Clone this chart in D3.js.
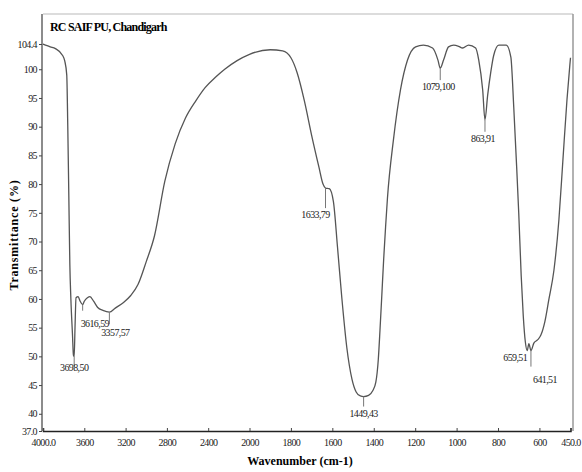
<!DOCTYPE html>
<html>
<head>
<meta charset="utf-8">
<script src="https://cdn.jsdelivr.net/npm/d3@7"></script>
<style>
  body { margin: 0; background: #fff; }
  text { font-family: "Liberation Serif", "DejaVu Serif", serif; }
  .tick text { font-size: 10px; letter-spacing: -0.6px; fill: #222; }
  .peak { font-size: 10px; letter-spacing: -0.6px; fill: #222; }
</style>
</head>
<body>
<svg width="582" height="472"></svg>
<script>
// spectrum
const wavenumber = [4000, 3960, 3930, 3880, 3810, 3790, 3770, 3760, 3750, 3740, 3730, 3715, 3705, 3698,
  3690, 3680, 3660, 3640, 3616, 3600, 3570, 3545, 3510, 3470, 3420, 3357, 3300, 3220, 3150, 3080,
  3000, 2920, 2820, 2720, 2620, 2520, 2430, 2330, 2240, 2120, 2000, 1900, 1840, 1800, 1770, 1735,
  1700, 1665, 1645, 1633, 1615, 1595, 1575, 1555, 1530, 1505, 1485, 1465, 1449, 1425, 1405, 1390,
  1378, 1370, 1362, 1352, 1343, 1334, 1305, 1271, 1237, 1198, 1160, 1116, 1090, 1079, 1063, 1039,
  1014, 990, 971, 942, 908, 893, 874, 863, 850, 835, 821, 796, 760, 738, 724, 710, 700, 688, 678,
  668, 659, 651, 641, 627, 608, 593, 574, 554, 530, 506, 487, 467, 453, 450];
const transmittance = [104.4, 104.1, 103.9, 103.6, 102.4, 101.5, 99, 90, 78, 66, 60, 54, 50.2, 50,
  55, 60.2, 60.4, 59.6, 59, 59.6, 60.2, 60.4, 59.6, 58.5, 58, 57.7, 58.4, 59.4, 60.6, 62.5,
  66.5, 71, 80.5, 87, 91.5, 94.5, 96.8, 98.6, 100, 101.5, 102.6, 103.4, 103.2, 102, 99.4, 94.5,
  88.5, 83, 80, 79.3, 79.2, 77, 69, 60.5, 51.5, 46, 43.8, 43.1, 43, 43.2, 44, 45.5,
  49.5, 54.5, 60, 67, 72.5, 77.5, 87.7, 96.4, 101.6, 103.9, 104.2, 103.7, 101.6, 100.2, 101.6, 103.9,
  104.2, 104, 103.7, 104.2, 103.7, 101.6, 96.4, 91.2, 95.5, 99.5, 102.4, 104.2, 104.2, 102.1, 93.4, 83, 75, 64, 57,
  52.5, 51, 52.2, 51, 52.3, 52.9, 53.7, 56, 60, 65, 73.8, 84, 94.7, 100.8, 102];

// picked peaks
const peakWn = [3698, 3616, 3357, 1633, 1449, 1079, 863, 659, 641];
const peakT = [50, 59, 57.7, 79.3, 43, 100.2, 91.2, 51, 51];
const peakLabels = ["3698,50", "3616,59", "3357,57", "1633,79", "1449,43", "1079,100", "863,91", "659,51", "641,51"];

const xTicks = [4000, 3600, 3200, 2800, 2400, 2000, 1800, 1600, 1400, 1200, 1000, 800, 600, 450];
const yTicks = [37, 40, 45, 50, 55, 60, 65, 70, 75, 80, 85, 90, 95, 100, 104.4];

const title = "RC SAIF PU, Chandigarh";
const xTitle = "Wavenumber (cm-1)";
const yTitle = "Transmittance (%)";

// label placement: [dx, dy, anchor, tick length]
const peakLayout = [
  [0, 15, "middle", 10], [-2, 22, "start", 6], [6, 24, "middle", 12], [-10, 30, "middle", 20],
  [0, 20, "middle", 10], [-2, 22, "middle", 12], [-2, 22, "middle", 12], [-12, 10, "middle", 0], [14, 32, "middle", 16]
];

const svg = d3.select("svg");
const plotL = 43, plotR = 570.5, plotT = 14, plotB = 431;

// spectrometer scale: 2x expansion below 2000 cm-1
const x = d3.scaleLinear().domain([4000, 2000, 450]).range([plotL, 249.5, plotR]);
const y = d3.scaleLinear().domain([37, 104.4]).range([plotB, 44]);

// frame
svg.append("line").attr("x1", plotL).attr("x2", 573).attr("y1", plotT).attr("y2", plotT)
  .attr("stroke", "#d0d0d0").attr("stroke-width", 1.5);
svg.append("line").attr("x1", 573).attr("x2", 573).attr("y1", plotT).attr("y2", plotB)
  .attr("stroke", "#999").attr("stroke-width", 1.5);
svg.append("line").attr("x1", plotL - 1).attr("x2", plotL - 1).attr("y1", plotT).attr("y2", plotB)
  .attr("stroke", "#666").attr("stroke-width", 1.5);

// axes
const xAxis = svg.append("g")
  .attr("transform", `translate(0,${plotB})`)
  .call(d3.axisBottom(x).tickValues(xTicks).tickSize(-3).tickPadding(8)
    .tickFormat(d => (d === 4000 || d === 450) ? d3.format(".1f")(d) : d));
xAxis.select(".domain").attr("stroke", "#222").attr("stroke-width", 1.5);
xAxis.selectAll(".tick line").attr("stroke", "#444");

const yAxis = svg.append("g")
  .attr("transform", `translate(${plotL - 1},0)`)
  .call(d3.axisLeft(y).tickValues(yTicks).tickSize(3).tickPadding(2)
    .tickFormat(d => (d === 37) ? "37.0" : d));
yAxis.select(".domain").remove();
yAxis.selectAll(".tick line").attr("stroke", "#444");

// spectrum
const pts = wavenumber.map((w, i) => [w, transmittance[i]]);
svg.append("path")
  .datum(pts)
  .attr("fill", "none")
  .attr("stroke", "#555")
  .attr("stroke-width", 1.3)
  .attr("d", d3.line().x(d => x(d[0])).y(d => y(d[1])).curve(d3.curveMonotoneX));

// peak marks
peakWn.forEach((w, i) => {
  const [dx, dy, anchor, len] = peakLayout[i];
  const px = x(w), py = y(peakT[i]);
  if (len > 0) {
    svg.append("line").attr("x1", px).attr("x2", px).attr("y1", py).attr("y2", py + len)
      .attr("stroke", "#777").attr("stroke-width", 1);
  }
  svg.append("text").attr("class", "peak")
    .attr("x", px + dx).attr("y", py + dy)
    .attr("text-anchor", anchor)
    .text(peakLabels[i]);
});

// titles
svg.append("text").attr("x", 50).attr("y", 31)
  .attr("font-size", 12).attr("font-weight", "bold").attr("letter-spacing", -0.8)
  .text(title);
svg.append("text").attr("x", 300).attr("y", 465)
  .attr("text-anchor", "middle").attr("font-size", 12).attr("font-weight", "bold")
  .text(xTitle);
svg.append("text").attr("transform", "translate(18,235) rotate(-90)")
  .attr("text-anchor", "middle").attr("font-size", 12).attr("font-weight", "bold").attr("letter-spacing", 0.8)
  .text(yTitle);
</script>
</body>
</html>
